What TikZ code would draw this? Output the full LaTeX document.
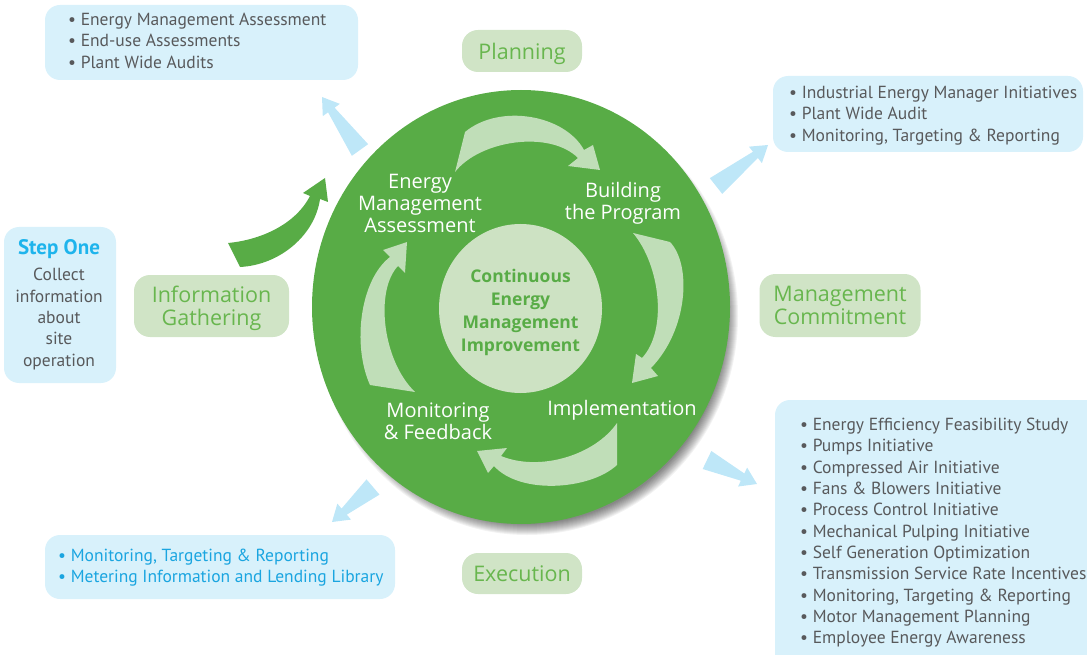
\documentclass[tikz,border=0pt]{standalone}
\usepackage{fontspec}
\setmainfont{PT Sans}
\newfontfamily\cyclefont{Open Sans}
\usetikzlibrary{calc}
\usetikzlibrary{shapes.geometric}

\definecolor{cyclegreen}{RGB}{88,172,70}
\definecolor{palegreen}{RGB}{192,222,184}
\definecolor{corefill}{RGB}{205,226,195}
\definecolor{tagfill}{RGB}{208,228,198}
\definecolor{taggreen}{RGB}{104,182,78}
\definecolor{boxblue}{RGB}{216,241,251}
\definecolor{flowblue}{RGB}{190,231,248}
\definecolor{listgray}{RGB}{88,89,91}
\definecolor{stepblue}{RGB}{30,180,236}
\definecolor{meterblue}{RGB}{26,165,224}

\tikzstyle{listbox} = [fill=boxblue, rounded corners=15pt, inner sep=0pt]
\tikzstyle{listtext} = [text=listgray, anchor=north west, inner sep=0pt, align=left, font=\fontsize{17.5}{21.3}\selectfont]
\tikzstyle{tag} = [fill=tagfill, rounded corners=16pt, text=taggreen, align=center, text depth=0pt, font=\cyclefont\fontsize{21.5}{22.5}\selectfont]
\tikzstyle{stage} = [text=white, align=center, font=\cyclefont\fontsize{20}{22}\selectfont]
\tikzstyle{swirl} = [fill=palegreen]
\tikzstyle{flow} = [fill=flowblue]

\begin{document}
\begin{tikzpicture}[x=1pt,y=-1pt]
        \useasboundingbox (0,0) rectangle (1087,655);

        % Side boxes
        \node[listbox, minimum width=313pt, minimum height=75pt] (emaBox) at (201.5,42.5) {};
            \node[listtext] (emaList) at (68,13) {\textbullet\ Energy Management Assessment\\\textbullet\ End-use Assessments\\\textbullet\ Plant Wide Audits};
        \node[listbox, minimum width=310pt, minimum height=76pt] (bldBox) at (928,114) {};
            \node[listtext] (bldList) at (789,86) {\textbullet\ Industrial Energy Manager Initiatives\\\textbullet\ Plant Wide Audit\\\textbullet\ Monitoring, Targeting \& Reporting};
        \node[listbox, minimum width=340pt, minimum height=290pt] (impBox) at (945,545) {};
            \node[listtext] (impList) at (800,418) {\textbullet\ Energy Efficiency Feasibility Study\\\textbullet\ Pumps Initiative\\\textbullet\ Compressed Air Initiative\\\textbullet\ Fans \& Blowers Initiative\\\textbullet\ Process Control Initiative\\\textbullet\ Mechanical Pulping Initiative\\\textbullet\ Self Generation Optimization\\\textbullet\ Transmission Service Rate Incentives\\\textbullet\ Monitoring, Targeting \& Reporting\\\textbullet\ Motor Management Planning\\\textbullet\ Employee Energy Awareness};
        \node[listbox, minimum width=350pt, minimum height=64pt] (monBox) at (220,567) {};
            \node[listtext, text=meterblue] (monList) at (58,549) {\textbullet\ Monitoring, Targeting \& Reporting\\\textbullet\ Metering Information and Lending Library};
        \node[listbox, minimum width=112pt, minimum height=156pt] (stepBox) at (60,305) {};
            \node[text=stepblue, font=\bfseries\fontsize{21}{24}\selectfont] (stepTitle) at (59,249) {Step One};
            \node[text=listgray, align=center, font=\fontsize{17.5}{21.3}\selectfont] (stepText) at (59,319) {Collect\\information\\about\\site\\operation};

        % Phase tags
        \node[tag, minimum width=120pt, minimum height=42pt] (planTag) at (522,51) {Planning};
        \node[tag, minimum width=161pt, minimum height=63pt] (commitTag) at (840,305.5) {Management\\Commitment};
        \node[tag, minimum width=155pt, minimum height=62pt] (infoTag) at (211.5,306) {Information\\Gathering};
        \node[tag, minimum width=120pt, minimum height=41pt] (execTag) at (522,573.5) {Execution};

        % Blue arrows
        \coordinate (emaTail) at (360,150);  \coordinate (emaTip) at (322,97);
        \coordinate (bldTail) at (716,186);  \coordinate (bldTip) at (768,145);
        \coordinate (impTail) at (707,460);  \coordinate (impTip) at (757,484);
        \coordinate (monTail) at (373,487);  \coordinate (monTip) at (332,522);
        \foreach \a/\b in {emaTail/emaTip, bldTail/bldTip, impTail/impTip, monTail/monTip} {
            \coordinate (hb) at ($(\b)!16pt!(\a)$);
            \fill[flow] ($(\a)!10pt!90:(\b)$) -- ($(hb)!4pt!90:(\b)$) -- ($(hb)!10.5pt!90:(\b)$) -- (\b)
                -- ($(hb)!10.5pt!-90:(\b)$) -- ($(hb)!4pt!-90:(\b)$) -- ($(\a)!10pt!-90:(\b)$) -- cycle;
        }

        % Green arrow from information gathering
        \fill[cyclegreen] (228,243) .. controls (260,240) and (295,225) .. (310,196) -- (303,193) -- (325,178)
            -- (328,202) -- (320,199) .. controls (315,235) and (280,265) .. (240,267) -- cycle;

        % Circle with shadow
        \foreach \r in {0,...,11}
            \fill[black, opacity=0.05] (527,316) ellipse ({200pt+\r pt} and {208pt+\r pt});
        \node[ellipse, fill=cyclegreen, inner sep=0pt, minimum width=418pt, minimum height=434pt] (cycle) at (521,307) {};
        \node[ellipse, fill=corefill, inner sep=0pt, minimum width=163pt, minimum height=169pt] (core) at (520.5,308.5) {};
            \node[text=cyclegreen, align=center, font=\cyclefont\bfseries\fontsize{17.5}{23}\selectfont] (coreText) at (520.5,312.5)
                {Continuous\\Energy\\Management\\Improvement};

        % Cycle arrows
        \fill[swirl] (455,172) .. controls (480,140) and (550,130) .. (578,158) -- (568,166) -- (600,170)
            -- (593,145) -- (584,150) .. controls (565,115) and (500,103) .. (465,132) -- cycle;
        \fill[swirl] (633,233) .. controls (660,265) and (668,330) .. (642,358) -- (636,354) -- (632,383)
            -- (658,376) -- (651,368) .. controls (688,330) and (692,265) .. (670,242) -- cycle;
        \fill[swirl] (617,423) .. controls (595,455) and (540,472) .. (501,456) -- (507,448) -- (477,451)
            -- (488,473) -- (494,466) .. controls (520,495) and (590,490) .. (617,465) -- cycle;
        \fill[swirl] (415,392) .. controls (382,360) and (375,290) .. (398,266) -- (405,273) -- (407,242)
            -- (383,250) -- (390,257) .. controls (360,280) and (352,345) .. (370,385) -- cycle;

        % Stage labels
        \node[stage] (assess) at (420,203) {Energy\\Management\\Assessment};
        \node[stage] (build) at (623,203) {Building\\the Program};
        \node[stage] (implement) at (622,410) {Implementation};
        \node[stage] (monitor) at (438,421) {Monitoring\\\& Feedback};

    \end{tikzpicture}
\end{document}
